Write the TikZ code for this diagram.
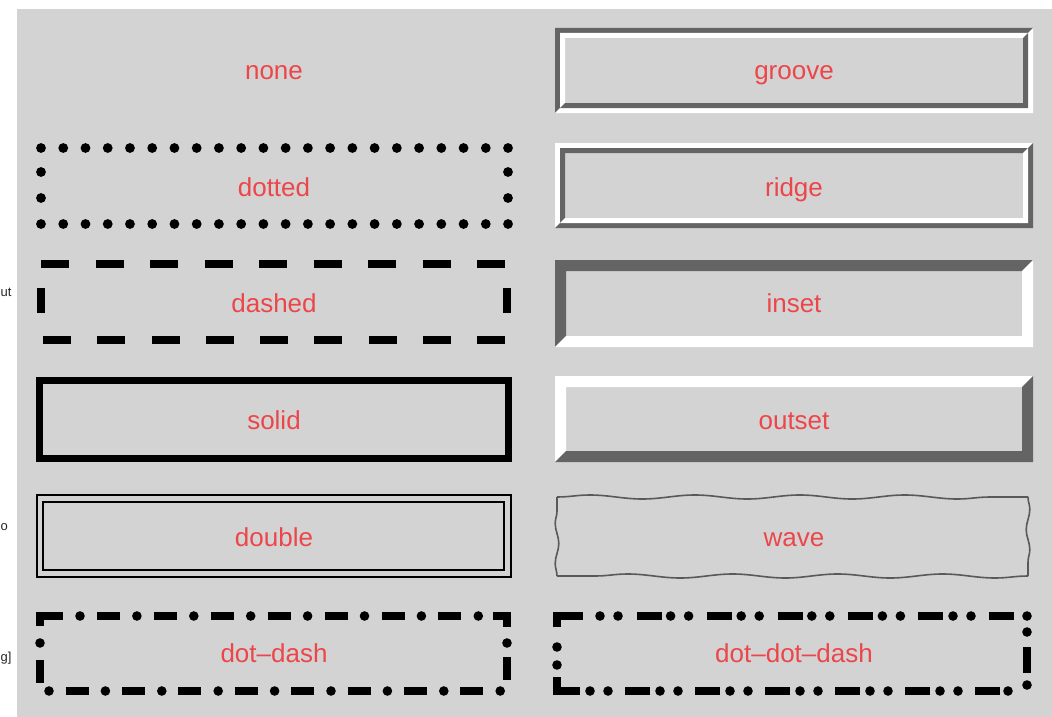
\documentclass[tikz,border=0pt]{standalone}
\usepackage{fontspec}
\setmainfont{Liberation Sans}
\usetikzlibrary{decorations.pathmorphing}
\definecolor{bg}{RGB}{211,211,211}
\definecolor{dk}{RGB}{100,100,100}
\definecolor{lblred}{RGB}{236,70,74}
\newcommand\bevelframe[7]{%
 \fill[#6] (#1,#2) -- (#3,#2) -- ({#3-#5},{#2+#5}) -- ({#1+#5},{#2+#5}) -- ({#1+#5},{#4-#5}) -- (#1,#4) -- cycle;
 \fill[#7] (#3,#2) -- (#3,#4) -- (#1,#4) -- ({#1+#5},{#4-#5}) -- ({#3-#5},{#4-#5}) -- ({#3-#5},{#2+#5}) -- cycle;}
\begin{document}
\begin{tikzpicture}[x=1pt,y=-1pt,
 lbl/.style={text=lblred,font=\fontsize{26}{30}\selectfont,inner sep=0pt,anchor=base},
 side/.style={text=black!85,font=\fontsize{13}{15}\selectfont,inner sep=0pt,anchor=base west},
 seg/.style={draw=black,line width=8pt,line cap=butt,line join=miter},
 dotc/.style={fill=black},
 wavy/.style={decorate,decoration={snake,amplitude=2pt,segment length=105pt},line width=1.6pt,draw=black!65}]
 \useasboundingbox (0,0) rectangle (1052,717);
 \clip (0,0) rectangle (1052,717);
 \fill[bg] (17,9) rectangle (1052,717);
 % side fragments
 \node[side] (sa) at (0.5,296) {ut};
 \node[side] (sb) at (0.5,530) {o};
 \node[side] (sc) at (0.5,661) {g]};
 % dotted
 \foreach \i in {0,...,21} {\fill[dotc] ({41+\i*22.24},148) circle (4.9pt); \fill[dotc] ({41+\i*22.24},224) circle (4.9pt);}
 \foreach \y in {172,198} {\fill[dotc] (41,\y) circle (4.9pt); \fill[dotc] (508,\y) circle (4.9pt);}
 % dashed
 \foreach \i in {0,...,8} {\draw[seg] ({41+\i*54.5},264) -- ++(28,0); \draw[seg] ({43+\i*54.25},340) -- ++(28,0);}
 \draw[seg] (41,288) -- (41,313);
 \draw[seg] (507,288) -- (507,313);
 % solid
 \draw[line width=7pt] (39.5,380.5) rectangle (508.5,458.5);
 % double
 \draw[line width=2.2pt] (37,495) rectangle (511,577);
 \draw[line width=2pt] (43,502) rectangle (504,570);
 % dot-dash
 \draw[seg] (40,626) -- (40,616) -- (63,616);
 \foreach \i in {0,...,7} \fill[dotc] ({80+\i*56.9},616) circle (4.8pt);
 \foreach \i in {0,...,6} \draw[seg] ({97+\i*56.9},616) -- ++(23,0);
 \draw[seg] (493,616) -- (507,616) -- (507,627);
 \fill[dotc] (507,643) circle (4.8pt);
 \draw[seg] (507,657) -- (507,680);
 \foreach \i in {0,...,8} \fill[dotc] ({49+\i*56.4},691) circle (4.8pt);
 \foreach \i in {0,...,7} \draw[seg] ({65.5+\i*56.4},691) -- ++(23,0);
 \fill[dotc] (40,643) circle (4.8pt);
 \draw[seg] (40,660) -- (40,683);
 % groove / ridge / inset / outset
 \bevelframe{555}{28}{1033}{113}{5}{dk}{white}
 \bevelframe{560}{33}{1028}{108}{5}{white}{dk}
 \bevelframe{555}{143}{1033}{228}{5}{white}{dk}
 \bevelframe{560}{148}{1028}{223}{5}{dk}{white}
 \bevelframe{555}{260}{1033}{347}{11}{dk}{white}
 \bevelframe{555}{376}{1033}{462}{11}{white}{dk}
 % wave
 \coordinate (w1) at (557,497);
 \coordinate (w2) at (1028,497);
 \coordinate (w3) at (1028,576);
 \coordinate (w4) at (557,576);
 \draw[wavy] (w1) -- (w2);
 \draw[wavy,decoration={segment length=40pt,amplitude=1.8pt}] (w2) -- (w3);
 \draw[wavy] (w3) -- (w4);
 \draw[wavy,decoration={segment length=40pt,amplitude=1.8pt}] (w4) -- (w1);
 % dot-dot-dash
 \draw[seg] (557,627) -- (557,616) -- (583,616);
 \foreach \i in {0,...,5} {\fill[dotc] ({600+\i*70.6},616) circle (4.8pt); \fill[dotc] ({618+\i*70.6},616) circle (4.8pt); \draw[seg] ({637+\i*70.3},616) -- ++(25,0);}
 \fill[dotc] (1027,616) circle (4.8pt);
 \fill[dotc] (1027,632) circle (4.8pt);
 \draw[seg] (1027,647) -- (1027,673);
 \fill[dotc] (1027,685) circle (4.8pt);
 \draw[seg] (557,677) -- (557,691) -- (580,691);
 \foreach \i in {0,...,5} {\fill[dotc] ({590+\i*70},691) circle (4.8pt); \fill[dotc] ({608+\i*70},691) circle (4.8pt); \draw[seg] ({625+\i*70},691) -- ++(25,0);}
 \fill[dotc] (1008,691) circle (4.8pt);
 \fill[dotc] (557,647) circle (4.8pt);
 \fill[dotc] (557,665) circle (4.8pt);
 % labels
 \node[lbl] (none) at (274,80) {none};
 \node[lbl] (dotted) at (274,196) {dotted};
 \node[lbl] (dashed) at (274,312) {dashed};
 \node[lbl] (solid) at (274,429) {solid};
 \node[lbl] (double) at (274,546) {double};
 \node[lbl] (dotdash) at (274,662) {dot–dash};
 \node[lbl] (groove) at (794,80) {groove};
 \node[lbl] (ridge) at (794,196) {ridge};
 \node[lbl] (inset) at (794,312) {inset};
 \node[lbl] (outset) at (794,429) {outset};
 \node[lbl] (wave) at (794,546) {wave};
 \node[lbl] (dotdotdash) at (794,662) {dot–dot–dash};
\end{tikzpicture}
\end{document}
